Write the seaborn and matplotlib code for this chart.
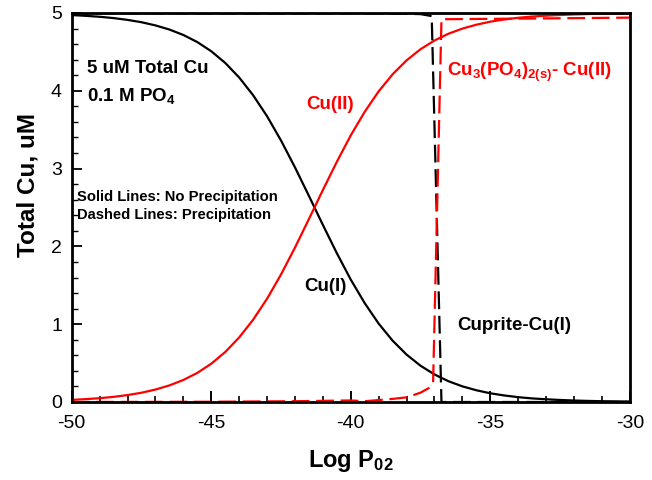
import numpy as np
import pandas as pd
import matplotlib
matplotlib.use("Agg")
import matplotlib.pyplot as plt
import seaborn as sns
from matplotlib.ticker import MultipleLocator

# ---- data ----
x_solid = [-50, -49.5, -49, -48.5, -48, -47.5, -47, -46.5, -46, -45.5, -45, -44.5, -44,
           -43.5, -43, -42.5, -42, -41.5, -41, -40.5, -40, -39.5, -39, -38.5, -38, -37.5,
           -37, -36.5, -36, -35.5, -35, -34.5, -34, -33.5, -33, -32.5, -32, -31.5, -31,
           -30.5, -30]
cu1_solid = [4.973, 4.963, 4.951, 4.934, 4.911, 4.881, 4.840, 4.787, 4.717, 4.626, 4.508,
             4.358, 4.171, 3.943, 3.673, 3.361, 3.016, 2.649, 2.276, 1.913, 1.573, 1.270,
             1.007, 0.788, 0.609, 0.466, 0.354, 0.267, 0.201, 0.151, 0.112, 0.084, 0.062,
             0.046, 0.035, 0.026, 0.019, 0.014, 0.010, 0.008, 0.006]
cu2_solid = [0.027, 0.037, 0.049, 0.066, 0.089, 0.119, 0.160, 0.213, 0.283, 0.374, 0.492,
             0.642, 0.829, 1.057, 1.327, 1.639, 1.984, 2.351, 2.724, 3.087, 3.427, 3.730,
             3.993, 4.212, 4.391, 4.534, 4.646, 4.733, 4.799, 4.849, 4.888, 4.916, 4.938,
             4.954, 4.965, 4.974, 4.981, 4.986, 4.990, 4.992, 4.994]

x_cuprite = [-50, -45, -40, -38, -37.5, -37.1, -36.75, -36.5, -33, -30]
cu1_dashed = [4.995, 4.995, 4.995, 4.99, 4.985, 4.96, 0.0, 0.0, 0.0, 0.0]
x_phos = [-50, -45, -42, -40, -39.5, -38.5, -38, -37.5, -37.2, -37.05, -36.75, -36.5, -33, -30]
cu2_dashed = [0.0, 0.003, 0.01, 0.02, 0.01, 0.04, 0.06, 0.12, 0.18, 0.25, 4.92, 4.92, 4.93, 4.94]

xticks = [-50, -45, -40, -35, -30]
yticks = [0, 1, 2, 3, 4, 5]

RED = "#ff0000"

sns.set_theme(style="ticks")
plt.rcParams['font.family'] = ['Liberation Sans', 'DejaVu Sans']
plt.rcParams['mathtext.fontset'] = 'custom'
plt.rcParams['mathtext.rm'] = 'Liberation Sans:bold'
plt.rcParams['mathtext.bf'] = 'Liberation Sans:bold'
plt.rcParams['mathtext.it'] = 'Liberation Sans:bold'
plt.rcParams['mathtext.default'] = 'bf'
plt.rcParams['text.color'] = 'black'
plt.rcParams['axes.labelcolor'] = 'black'

fig = plt.figure(figsize=(6.52, 4.80), dpi=100)
ax = fig.add_axes([0.110, 0.1625, 0.856, 0.8105])

df_s = pd.DataFrame({"x": x_solid, "cu1": cu1_solid, "cu2": cu2_solid})
df_c = pd.DataFrame({"x": x_cuprite, "y": cu1_dashed})
df_p = pd.DataFrame({"x": x_phos, "y": cu2_dashed})

sns.lineplot(data=df_s, x="x", y="cu1", ax=ax, color="black", lw=1.6)
sns.lineplot(data=df_s, x="x", y="cu2", ax=ax, color=RED, lw=1.6)
sns.lineplot(data=df_c, x="x", y="y", ax=ax, color="black", lw=1.6, dashes=False,
             linestyle=(0, (8, 3)))
sns.lineplot(data=df_p, x="x", y="y", ax=ax, color=RED, lw=1.6, dashes=False,
             linestyle=(0, (8, 3)))

ax.set_xlim(-50, -30)
ax.set_ylim(0, 5)
ax.set_xticks(xticks)
ax.set_yticks(yticks)
ax.set_xticklabels([str(t) for t in xticks])
ax.set_yticklabels([str(t) for t in yticks])
ax.xaxis.set_minor_locator(MultipleLocator(1))
ax.yaxis.set_minor_locator(MultipleLocator(0.2))
ax.tick_params(axis='x', which='both', bottom=True, top=False, direction='in',
               color='black', labelcolor='black')
ax.tick_params(axis='y', which='both', left=True, right=False, direction='in',
               color='black', labelcolor='black')
ax.tick_params(axis='x', which='major', length=8, width=1.4, labelsize=14, pad=9)
ax.tick_params(axis='y', which='major', length=7.5, width=1.3, labelsize=14, pad=7)
ax.tick_params(axis='x', which='minor', length=4.5, width=1.2)
ax.tick_params(axis='y', which='minor', length=4, width=1.0)
for s in ax.spines.values():
    s.set_visible(True)
    s.set_color('black')
    s.set_linewidth(2)
    s.set_zorder(5)

ax.set_xlabel(r"Log P$_{02}$", fontsize=17, fontweight='bold', labelpad=12)
ax.set_ylabel("Total Cu, uM", fontsize=17.5, fontweight='bold')
ax.yaxis.set_label_coords(-0.058, 0.558)

ax.text(-49.45, 4.29, "5 uM Total Cu", fontsize=13.5, fontweight='bold', va='center', ha='left')
ax.text(-49.45, 3.93, r"0.1 M PO$_4$", fontsize=13.5, fontweight='bold', va='center', ha='left')
ax.text(-49.8, 2.63, "Solid Lines: No Precipitation", fontsize=10.6, fontweight='bold',
        va='center', ha='left')
ax.text(-49.8, 2.40, "Dashed Lines: Precipitation", fontsize=10.6, fontweight='bold',
        va='center', ha='left')
ax.text(-40.75, 3.82, "Cu(II)", fontsize=13.5, fontweight='bold', color=RED,
        va='center', ha='center')
ax.text(-36.56, 4.24, r"Cu$_3$(PO$_4$)$_{2(s)}$- Cu(II)", fontsize=13.5, fontweight='bold',
        color=RED, va='center', ha='left')
ax.text(-40.9, 1.48, "Cu(I)", fontsize=13.5, fontweight='bold', va='center', ha='center')
ax.text(-36.2, 0.98, "Cuprite-Cu(I)", fontsize=13.5, fontweight='bold', va='center', ha='left')

fig.savefig("out.png", dpi=100)
